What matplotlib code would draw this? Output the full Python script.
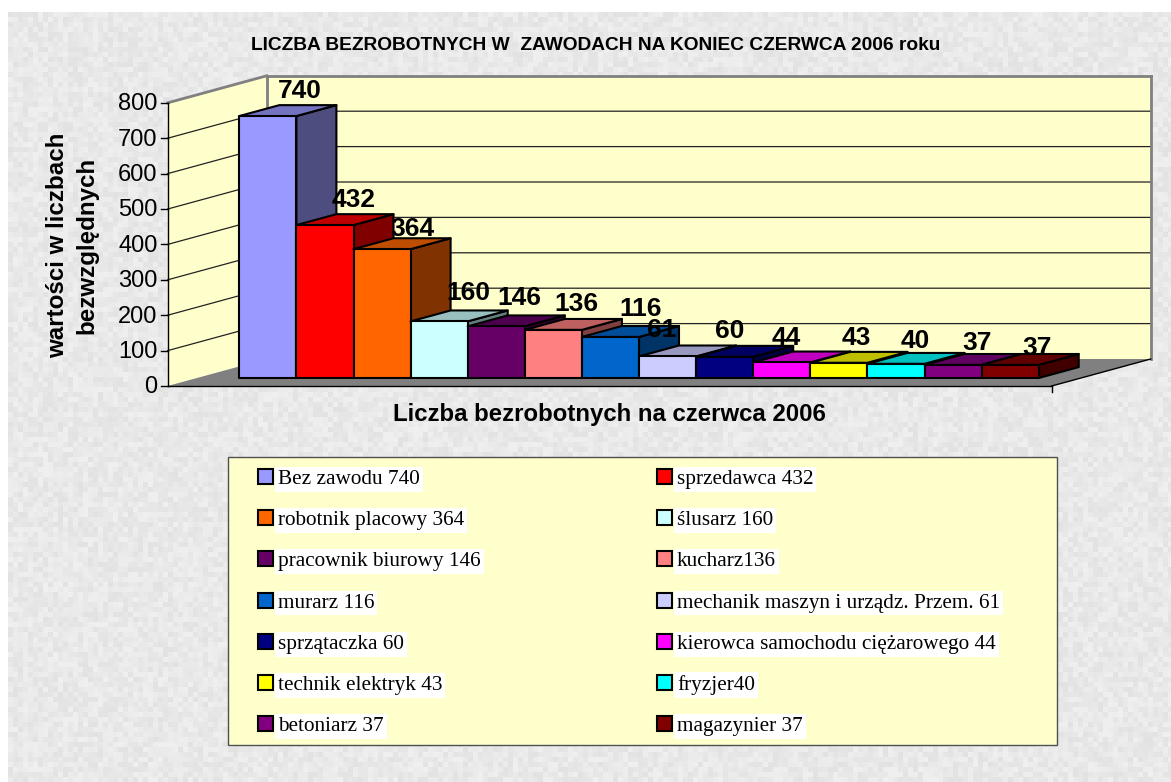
import numpy as np
import matplotlib
matplotlib.use("Agg")
import matplotlib.pyplot as plt
from matplotlib.patches import Patch, Rectangle

# ---- data ----
names = ["Bez zawodu 740", "sprzedawca 432", "robotnik placowy 364", "ślusarz 160",
         "pracownik biurowy 146", "kucharz136", "murarz 116",
         "mechanik maszyn i urządz. Przem. 61", "sprzątaczka 60",
         "kierowca samochodu ciężarowego 44", "technik elektryk 43", "fryzjer40",
         "betoniarz 37", "magazynier 37"]
values = [740, 432, 364, 160, 146, 136, 116, 61, 60, 44, 43, 40, 37, 37]
colors = ["#9999FF", "#FF0000", "#FF6600", "#CCFFFF", "#660066", "#FF8080", "#0066CC",
          "#CCCCFF", "#000080", "#FF00FF", "#FFFF00", "#00FFFF", "#800080", "#800000"]
yticks = [0, 100, 200, 300, 400, 500, 600, 700, 800]
title = "LICZBA BEZROBOTNYCH W  ZAWODACH NA KONIEC CZERWCA 2006 roku"
xlabel = "Liczba bezrobotnych na czerwca 2006"
ylabel = "wartości w liczbach\nbezwzględnych"

# ---- layout (pixels of the 1171x782 canvas) ----
W, H = 1171, 782
CAT_PX = 57.1         # one category
VAL_PX = 0.354        # one value unit
X0_PX, Y0_PX = 210.0, 386.0   # category 0 / value 0 on the front plane
WALL_DX, WALL_DY = 99 / CAT_PX, 27 / VAL_PX   # full depth of the chart box
GAP = 0.74
BAR_D0, BAR_D1 = 0.296, 0.70  # depth range of the bars
label_dx = [12, 9, 10, 9, 3, 3, 10, -26, -15, -16, -3, -1, 4, 7]
label_dy = [14.5, 14.5, 9.5, 17, 17, 15, 17, 16, 15, 14, 14, 12, 11, 6]

plt.rcParams["font.family"] = ["Liberation Sans", "DejaVu Sans"]
fig = plt.figure(figsize=(W / 100, H / 100), dpi=100, facecolor="white")

# mottled page background (deterministic texture, not data)
BLOCK = 5
rows, cols = (H - 12) // BLOCK + 1, (W - 8) // BLOCK + 1
jj, ii = np.meshgrid(np.arange(cols), np.arange(rows))
h = np.sin(ii * 12.9898 + jj * 78.233) * 43758.5453
h = h - np.floor(h)
tex = 226 + 14 * h
tex = np.kron(tex, np.ones((BLOCK, BLOCK)))[: H - 12, : W - 8].astype(np.uint8)
fig.figimage(np.dstack([tex] * 3), xo=8, yo=0, origin="upper", zorder=-5)

ax = fig.add_axes([0, 0, 1, 1], zorder=1)
ax.set_xlim(-X0_PX / CAT_PX, (W - X0_PX) / CAT_PX)
ax.set_ylim((Y0_PX - H) / VAL_PX, Y0_PX / VAL_PX)
ax.axis("off")


def proj(x, v, d):
    """Category x, value v, depth d (0 front .. 1 back) -> data coordinates."""
    return (x + d * WALL_DX, v + d * WALL_DY)


def poly(pts, **kw):
    xs, ys = zip(*pts)
    ax.fill(xs, ys, **kw)


left, right = -GAP, len(values) + GAP
top = yticks[-1]

# walls and floor
GRAY = "#808080"
poly([proj(left, 0, 0), proj(left, top, 0), proj(left, top, 1), proj(left, 0, 1)],
     fc="#FFFFCC", ec="none", zorder=1)
poly([proj(left, 0, 1), proj(left, top, 1), proj(right, top, 1), proj(right, 0, 1)],
     fc="#FFFFCC", ec="none", zorder=1)
poly([proj(left, 0, 0), proj(right, 0, 0), proj(right, 0, 1), proj(left, 0, 1)],
     fc=GRAY, ec="none", zorder=2)
for v in yticks[1:-1]:
    a, b, c = proj(left, v, 0), proj(left, v, 1), proj(right, v, 1)
    ax.plot([a[0], b[0], c[0]], [a[1], b[1], c[1]], color="#222222", lw=0.9, zorder=1.5)
a, b, c, d = proj(left, top, 0), proj(left, top, 1), proj(right, top, 1), proj(right, 0, 1)
ax.plot([a[0], b[0]], [a[1], b[1]], color=GRAY, lw=2, zorder=1.6)
ax.plot([b[0], b[0]], [b[1], proj(left, 0, 1)[1]], color=GRAY, lw=2, zorder=1.6)
ax.plot([b[0], c[0]], [b[1], c[1]], color=GRAY, lw=2, zorder=1.6)
ax.plot([c[0], d[0]], [c[1], d[1]], color=GRAY, lw=2, zorder=1.6)

# axes lines
ax.plot([left, left], [0, top], color="black", lw=1, zorder=3)
ax.plot([left, right], [0, 0], color="black", lw=1, zorder=3)
e = proj(right, 0, 1)
ax.plot([right, e[0]], [0, e[1]], color="black", lw=1, zorder=3)
ax.plot([right, right], [0, -6 / VAL_PX * 1.0], color="black", lw=1, zorder=3)
for v in yticks:
    ax.plot([left - 7 / CAT_PX, left], [v, v], color="black", lw=1, zorder=3)
    ax.text(left - 10 / CAT_PX, v - 1.5 / VAL_PX, str(v), ha="right", va="center", fontsize=17,
            color="black", zorder=3)


def shade(col, f):
    rgb = np.array(matplotlib.colors.to_rgb(col))
    return tuple(rgb * f)


# bars
for i, (v, col) in enumerate(zip(values, colors)):
    z = 5 + i
    kw = dict(ec="black", lw=1.5, joinstyle="round", zorder=z)
    poly([proj(i + 1, 0, BAR_D0), proj(i + 1, v, BAR_D0), proj(i + 1, v, BAR_D1),
          proj(i + 1, 0, BAR_D1)], fc=shade(col, 0.5), **kw)
    poly([proj(i, v, BAR_D0), proj(i + 1, v, BAR_D0), proj(i + 1, v, BAR_D1),
          proj(i, v, BAR_D1)], fc=shade(col, 0.75), **kw)
    poly([proj(i, 0, BAR_D0), proj(i + 1, 0, BAR_D0), proj(i + 1, v, BAR_D0),
          proj(i, v, BAR_D0)], fc=col, **kw)

# value labels
for i, v in enumerate(values):
    px = proj(i + 0.5, v, (BAR_D0 + BAR_D1) / 2)[0]
    py = proj(i + 0.5, v, BAR_D1)[1]
    ax.annotate(str(v), (px, py), xytext=(label_dx[i] * 0.72, label_dy[i] * 0.72),
                textcoords="offset points", ha="center", va="center",
                fontsize=19, fontweight="bold", color="black", zorder=30)


def fx(x):
    return x / W


def fy(y):
    return 1 - y / H


fig.text(fx(596), fy(46), title, ha="center", va="center", fontsize=13.8, fontweight="bold",
         color="black", zorder=5)
fig.text(fx(609), fy(414), xlabel, ha="center", va="center", fontsize=17.3, fontweight="bold",
         color="black", zorder=5)
fig.text(fx(72), fy(245), ylabel, ha="center", va="center", rotation=90, fontsize=17.4,
         fontweight="bold", color="black", linespacing=1.38, multialignment="center", zorder=5)

# legend box + legend
ax.add_patch(Rectangle((fx(228), fy(745)), (1057 - 228) / W, (745 - 457) / H,
                       transform=fig.transFigure, fc="#FFFFCC", ec="#505050", lw=1, zorder=40))
handles = [Patch(fc=c, ec="black", lw=1.5) for c in colors]
order = list(range(0, len(names), 2)) + list(range(1, len(names), 2))
leg = ax.legend([handles[k] for k in order], [names[k] for k in order], ncols=2,
                loc="upper left", bbox_to_anchor=(fx(258), fy(469)),
                bbox_transform=fig.transFigure, frameon=False, borderaxespad=0, borderpad=0,
                handlelength=0.72, handleheight=0.72, handletextpad=0.22,
                labelspacing=0.996, columnspacing=8.3,
                prop={"family": "Liberation Serif", "size": 15.3})
leg.set_zorder(50)
for t in leg.get_texts():
    t.set_bbox(dict(fc="white", ec="none", pad=2.2))

fig.savefig("out.png", dpi=100)
